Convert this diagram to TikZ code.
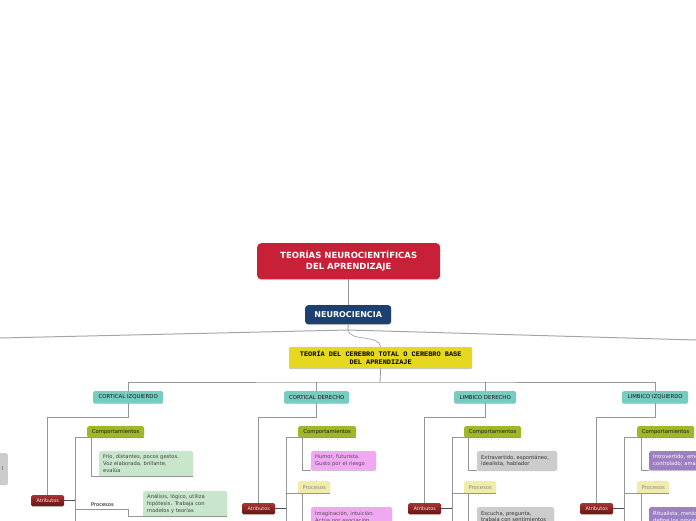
\documentclass[tikz,border=0pt]{standalone}
\usepackage{fontspec}
\setmainfont{DejaVu Sans}
\newfontfamily\monof{Liberation Mono}
\usetikzlibrary{shadows}
\definecolor{titred}{RGB}{200,32,54}
\definecolor{navy}{RGB}{30,64,112}
\definecolor{teoyel}{RGB}{230,216,32}
\definecolor{teal}{RGB}{118,204,192}
\definecolor{olive}{RGB}{160,184,40}
\definecolor{lgreen}{RGB}{200,230,203}
\definecolor{pink}{RGB}{240,168,242}
\definecolor{pyel}{RGB}{240,236,172}
\definecolor{lgray}{RGB}{204,204,204}
\definecolor{purp}{RGB}{156,128,194}
\definecolor{atrtop}{RGB}{165,52,52}
\definecolor{atrbot}{RGB}{105,18,18}
\definecolor{lineg}{RGB}{150,150,150}
\definecolor{darkl}{RGB}{80,80,80}
\begin{document}
\begin{tikzpicture}[x=1pt,y=-1pt,
  lnk/.style={draw=lineg, line width=0.8pt},
  dlnk/.style={draw=darkl, line width=0.8pt},
  bx/.style={rectangle, rounded corners=1.5pt, inner sep=0pt, anchor=north west, align=center,
    font=\fontsize{5}{6}\selectfont,
    drop shadow={shadow xshift=0pt, shadow yshift=-0.8pt, opacity=0.35, fill=black!60}},
  head/.style={bx, fill=teal, minimum height=12, text=black!90, font=\fontsize{5.4}{6}\selectfont},
  comp/.style={bx, fill=olive, minimum height=11, text=black!90, font=\fontsize{5.3}{6}\selectfont},
  proc/.style={bx, fill=pyel, minimum width=32, minimum height=12, text=black!45, font=\fontsize{5.3}{6}\selectfont},
  atr/.style={bx, top color=atrtop, bottom color=atrbot, minimum width=33, minimum height=11, text=red!10, font=\fontsize{4.9}{6}\selectfont},
  txt/.style={bx, align=left, inner xsep=4pt, font=\fontsize{5.2}{6.8}\selectfont, text=black!75},
  cut/.style={txt, inner ysep=4pt},
  plain/.style={rectangle, inner xsep=3pt, inner ysep=0pt, anchor=north west, align=left, text width=34, minimum height=10, font=\fontsize{5.1}{6}\selectfont}
]
\useasboundingbox (0,0) rectangle (696,520);
\clip (0,0) rectangle (696,520);

% top nodes
\node[bx, fill=titred, rounded corners=4pt, minimum width=183, minimum height=36, text=white,
  font=\bfseries\fontsize{8.5}{11}\selectfont] (title) at (257,243) {TEORÍAS NEUROCIENTÍFICAS\\DEL APRENDIZAJE};
\node[bx, fill=navy, rounded corners=3pt, minimum width=86, minimum height=19, text=white,
  font=\bfseries\fontsize{8}{10}\selectfont] (neuro) at (305,305) {NEUROCIENCIA};
\node[bx, fill=teoyel, rounded corners=1pt, minimum width=183, minimum height=21, text=black,
  font=\monof\bfseries\fontsize{6.9}{8.6}\selectfont] (teo) at (289,347) {TEORÍA DEL CEREBRO TOTAL O CEREBRO BASE\\DEL APRENDIZAJE};

\coordinate (jn) at (348,330);
\coordinate (Lend) at (0,338);
\coordinate (Rend) at (696,340);
\coordinate (bar) at (380,382);

\draw[lnk] (title.south) -- (neuro.south |- title.south) -- (neuro.north);
\draw[lnk] (neuro.south) -- (jn);
\draw[lnk, line width=1pt, draw=gray!70] (jn) -- (Lend);
\draw[lnk, line width=1pt, draw=gray!70] (jn) -- (Rend);
\draw[lnk, line width=0.6pt] (jn) .. controls (350,342) and (379,334) .. (teo.north);

% headings
\node[head, minimum width=70] (ci) at (93,391) {CORTICAL IZQUIERDO};
\node[head, minimum width=65] (cd) at (284,391) {CORTICAL DERECHO};
\node[head, minimum width=62] (ld) at (454,391) {LIMBICO DERECHO};
\node[head, minimum width=66] (li) at (622,391) {LIMBICO IZQUIERDO};

\draw[lnk] (teo.south) -- (bar);
\draw[lnk] (ci.north) |- (bar) -| (li.north);
\draw[lnk] (cd.north) -- (cd.north |- bar);
\draw[lnk] (ld.north) -- (ld.north |- bar);

% left cut gray box
\node[bx, fill=lgray, minimum width=40, minimum height=31, anchor=north east, text=black!80] (lg) at (8,453) {\hspace*{30pt}l};

% ===== CORTICAL IZQUIERDO
\coordinate (ciV) at (75,525);
\node[atr] (ciA) at (31,495) {Atributos};
\node[comp, minimum width=57] (ciC) at (87,426) {Comportamientos};
\node[txt, fill=lgreen, text width=86, minimum height=25] (ciT1) at (99,451) {Frío, distantes, pocos gestos.\\Voz elaborada, brillante,\\evalúa};
\node[plain] (ciP) at (88,499) {Procesos};
\node[txt, fill=lgreen, text width=76, minimum height=25] (ciT2) at (143,491) {Análisis, lógico, utiliza\\hipótesis. Trabaja con\\modelos y teorías};
\draw[lnk] (ci.south) -- ++(0,14) -| (ciA.north);
\draw[dlnk] (ciA.east) -- (ciA.east -| ciV);
\draw[lnk] (ciC.south east) -- (ciC.south west) -| (ciV);
\draw[lnk] ([xshift=4pt]ciC.south west) |- (ciT1.south east);
\draw[lnk] (ciP.south west -| ciV) -- (ciP.south east) |- (ciT2.south east);

% ===== CORTICAL DERECHO
\coordinate (cdV) at (286,525);
\coordinate (cdW) at (302,525);
\node[atr] (cdA) at (242,503) {Atributos};
\node[comp, minimum width=58] (cdC) at (298,426) {Comportamientos};
\node[txt, fill=pink, text width=57, minimum height=19, text=black!70] (cdT1) at (311,451) {Humor, futurista.\\Gusto por el riesgo};
\node[proc] (cdP) at (298,481) {Procesos};
\node[cut, fill=pink, text width=73, text=black!70] (cdT2) at (311,507) {Imaginación, intuición.\\Actúa por asociación};
\draw[lnk] (cd.south) -- ++(0,14) -| (cdA.north);
\draw[dlnk] (cdA.east) -- (cdA.east -| cdV);
\draw[lnk] (cdC.south east) -- (cdC.south west) -| (cdV);
\draw[lnk] ([xshift=4pt]cdC.south west) |- (cdT1.south west);
\draw[lnk] (cdP.south east) -- (cdP.south west -| cdV);
\draw[lnk] ([xshift=4pt]cdP.south west) -- (cdW);

% ===== LIMBICO DERECHO
\coordinate (ldV) at (452,525);
\coordinate (ldW) at (468,525);
\node[atr] (ldA) at (408,503) {Atributos};
\node[comp, minimum width=57] (ldC) at (464,426) {Comportamientos};
\node[txt, fill=lgray, text width=72, minimum height=19, text=black!80] (ldT1) at (477,451) {Extravertido, espontáneo,\\idealista, hablador};
\node[proc] (ldP) at (464,481) {Procesos};
\node[cut, fill=lgray, text width=69, text=black!80] (ldT2) at (477,507) {Escucha, pregunta,\\trabaja con sentimientos};
\draw[lnk] (ld.south) -- ++(0,14) -| (ldA.north);
\draw[dlnk] (ldA.east) -- (ldA.east -| ldV);
\draw[lnk] (ldC.south east) -- (ldC.south west) -| (ldV);
\draw[lnk] ([xshift=4pt]ldC.south west) |- (ldT1.south west);
\draw[lnk] (ldP.south east) -- (ldP.south west -| ldV);
\draw[lnk] ([xshift=4pt]ldP.south west) -- (ldW);

% ===== LIMBICO IZQUIERDO
\coordinate (liV) at (624,525);
\coordinate (liW) at (641,525);
\node[atr] (liA) at (580,503) {Atributos};
\node[comp, minimum width=57] (liC) at (637,426) {Comportamientos};
\node[txt, fill=purp, text width=70, minimum height=19, text=white] (liT1) at (649,451) {Introvertido, emotivo,\\controlado; ama};
\node[proc] (liP) at (637,481) {Procesos};
\node[cut, fill=purp, text width=70, text=white] (liT2) at (649,507) {Ritualista, metódico,\\define los procesos};
\draw[lnk] (li.south) -- ++(0,14) -| (liA.north);
\draw[dlnk] (liA.east) -- (liA.east -| liV);
\draw[lnk] (liC.south east) -- (liC.south west) -| (liV);
\draw[lnk] ([xshift=4pt]liC.south west) |- (liT1.south west);
\draw[lnk] (liP.south east) -- (liP.south west -| liV);
\draw[lnk] ([xshift=4pt]liP.south west) -- (liW);
\end{tikzpicture}
\end{document}
